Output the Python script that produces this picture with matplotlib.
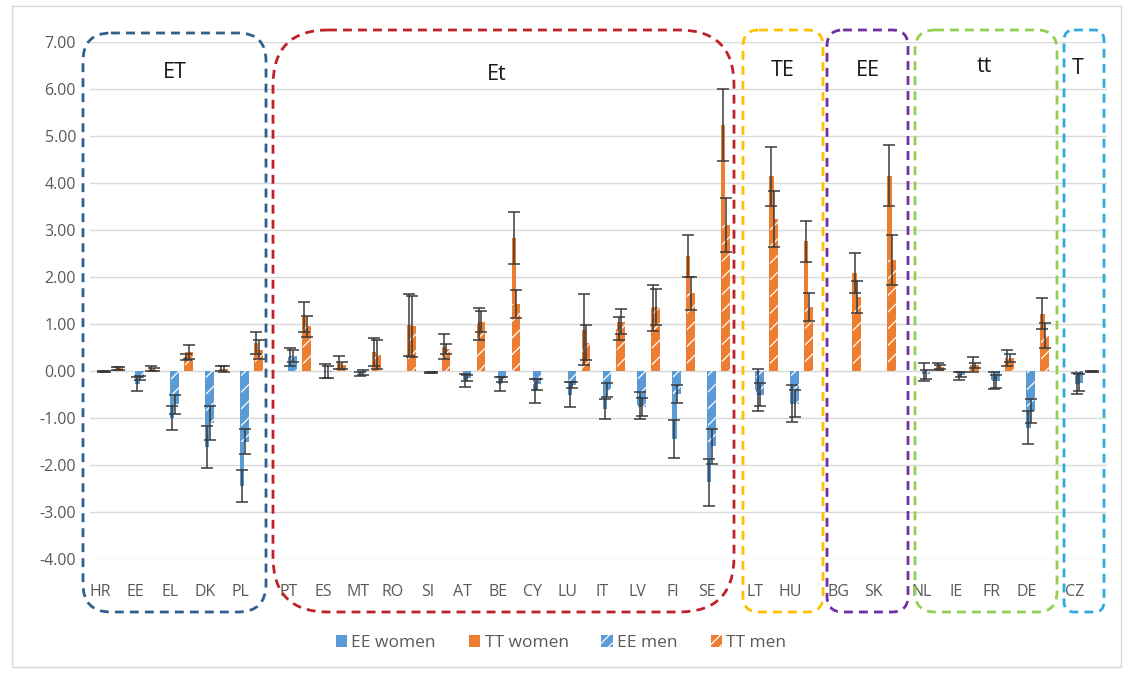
import numpy as np
import matplotlib
matplotlib.use("Agg")
import matplotlib.pyplot as plt
from matplotlib.patches import FancyBboxPatch, Patch, Rectangle

plt.rcParams['font.family'] = ['Open Sans', 'DejaVu Sans']
plt.rcParams['hatch.linewidth'] = 0.9

nan = np.nan
categories = ["HR", "EE", "EL", "DK", "PL",
              "PT", "ES", "MT", "RO", "SI", "AT", "BE", "CY", "LU", "IT", "LV", "FI", "SE",
              "LT", "HU",
              "BG", "SK",
              "NL", "IE", "FR", "DE",
              "CZ"]
group_sizes = [5, 13, 2, 2, 4, 1]
group_names = ["ET", "Et", "TE", "EE", "tt", "T"]

ee_women = [-0.01, -0.28, -1.00, -1.61, -2.45, 0.30, 0.00, -0.06, nan, -0.03, -0.20, -0.28, -0.42,
            -0.50, -0.80, -0.73, -1.45, -2.36, -0.40, -0.69, nan, nan, -0.02, -0.10, -0.20, -1.20, -0.27]
ee_women_err = [0.02, 0.15, 0.26, 0.45, 0.34, 0.20, 0.14, 0.04, nan, 0.01, 0.13, 0.15, 0.25,
                0.26, 0.21, 0.28, 0.40, 0.50, 0.45, 0.39, nan, nan, 0.19, 0.09, 0.19, 0.36, 0.22]
tt_women = [0.05, 0.05, 0.30, 0.05, 0.60, 1.15, 0.18, 0.40, 0.97, 0.52, 1.00, 2.83, nan,
            0.88, 0.90, 1.35, 2.45, 5.23, 4.14, 2.76, 2.08, 4.15, 0.10, 0.13, 0.28, 1.22, -0.01]
tt_women_err = [0.03, 0.05, 0.07, 0.05, 0.23, 0.32, 0.13, 0.30, 0.66, 0.27, 0.33, 0.55, nan,
                0.76, 0.25, 0.49, 0.45, 0.76, 0.63, 0.44, 0.43, 0.65, 0.08, 0.16, 0.17, 0.33, 0.01]
ee_men = [0.00, -0.15, -0.71, -1.10, -1.50, 0.32, -0.02, -0.03, nan, -0.03, -0.15, -0.18, -0.28,
          -0.30, -0.40, -0.77, -0.48, -1.60, -0.50, -0.69, nan, nan, -0.07, -0.08, -0.22, -0.85, -0.25]
ee_men_err = [0.01, 0.05, 0.20, 0.36, 0.27, 0.13, 0.12, 0.06, nan, 0.01, 0.06, 0.05, 0.12,
              0.06, 0.15, 0.19, 0.19, 0.37, 0.25, 0.29, nan, nan, 0.10, 0.05, 0.14, 0.25, 0.18]
tt_men = [0.06, 0.03, 0.40, 0.04, 0.45, 0.95, 0.12, 0.35, 0.95, 0.47, 1.05, 1.43, nan,
          0.60, 1.05, 1.36, 1.65, 3.10, 3.23, 1.36, 1.58, 2.37, 0.08, 0.12, 0.28, 0.75, -0.01]
tt_men_err = [0.03, 0.03, 0.15, 0.06, 0.20, 0.22, 0.08, 0.30, 0.65, 0.10, 0.22, 0.30, nan,
              0.37, 0.27, 0.38, 0.35, 0.57, 0.60, 0.30, 0.34, 0.53, 0.04, 0.06, 0.09, 0.27, 0.01]
yticks = [-4, -3, -2, -1, 0, 1, 2, 3, 4, 5, 6, 7]

BLUE = "#5B9BD5"
ORANGE = "#ED7D31"
TXT = "#595959"
ERRC = "#3A3A3A"

# positions: categories with an extra gap between groups
gidx = np.repeat(np.arange(len(group_sizes)), group_sizes)
x = np.arange(len(categories)) + 0.38 * gidx

W = 1130
H = 673
fig = plt.figure(figsize=(W / 100, H / 100), dpi=100)
ax = fig.add_axes([90 / W, 1 - 559.3 / H, (1107 - 90) / W, (559.3 - 41.7) / H])

off = 0.2
mw = 0.23
ww = 0.12
wshift = -0.07

# women (solid, narrow)
ax.bar(x - off + wshift, ee_women, width=ww, color=BLUE, zorder=2)
ax.bar(x + off + wshift, tt_women, width=ww, color=ORANGE, zorder=2)
# men (hatched, wider)
ax.bar(x - off, ee_men, width=mw, color=BLUE, edgecolor="white", linewidth=0, hatch="//", zorder=3)
ax.bar(x + off, tt_men, width=mw, color=ORANGE, edgecolor="white", linewidth=0, hatch="//", zorder=3)

ekw = dict(fmt="none", ecolor=ERRC, elinewidth=1.1, capsize=4.5, capthick=1.1, zorder=4)
ax.errorbar(x - off + wshift, ee_women, yerr=ee_women_err, **ekw)
ax.errorbar(x + off + wshift, tt_women, yerr=tt_women_err, **ekw)
ax.errorbar(x - off, ee_men, yerr=ee_men_err, **ekw)
ax.errorbar(x + off, tt_men, yerr=tt_men_err, **ekw)

ax.set_ylim(-4, 7)
ax.set_xlim(x[0] - 0.63, x[-1] + 0.6)
ax.set_yticks(yticks)
ax.set_yticklabels([f"{v:.2f}" for v in yticks], color=TXT, fontsize=11.5)
ax.set_xticks(x - 0.33)
ax.set_xticklabels(categories, color=TXT, fontsize=11.5)
ax.tick_params(axis="x", length=0, pad=18)
ax.tick_params(axis="y", length=0, pad=10)
ax.grid(axis="y", color="#D9D9D9", linewidth=1.0, zorder=0)
ax.set_axisbelow(True)
for s in ax.spines.values():
    s.set_visible(False)

# legend
handles = [Patch(facecolor=BLUE, label="EE women"),
           Patch(facecolor=ORANGE, label="TT women"),
           Patch(facecolor=BLUE, edgecolor="white", hatch="///", linewidth=0, label="EE men"),
           Patch(facecolor=ORANGE, edgecolor="white", hatch="///", linewidth=0, label="TT men")]
leg = fig.legend(handles=handles, loc="center", bbox_to_anchor=(561 / W, 1 - 643 / H), ncol=4,
                 frameon=False, fontsize=12.5, handlelength=0.65, handleheight=0.65,
                 handletextpad=0.25, columnspacing=1.9)
for t in leg.get_texts():
    t.set_color(TXT)

# overlay for group boxes (pixel coordinates)
ov = fig.add_axes([0, 0, 1, 1], facecolor="none")
ov.set_xlim(0, W)
ov.set_ylim(H, 0)
ov.axis("off")
ov.add_patch(Rectangle((11.5, 6), 1109, 661, fill=False, edgecolor="#D9D9D9", linewidth=1))

boxes = [  # x0, y0, x1, y1, color, rounding, label x, label y
    (83, 33, 266, 612, "#2F5F8F", 28, 175, 72),
    (273, 30, 734, 612, "#C0202A", 55, 497, 75),
    (743, 30, 823, 612, "#FFC000", 16, 783, 70),
    (827, 30, 908, 612, "#7030A0", 16, 868, 70),
    (915, 30, 1057, 612, "#92D050", 20, 984, 67),
    (1064, 30, 1104, 612, "#2EAADC", 10, 1078, 68),
]
for (x0, y0, x1, y1, c, r, lx, ly), name in zip(boxes, group_names):
    p = FancyBboxPatch((x0, y0), x1 - x0, y1 - y0,
                       boxstyle=f"round,pad=0,rounding_size={r}",
                       fill=False, edgecolor=c, linewidth=2.0,
                       linestyle=(0, (3.2, 2.2)), zorder=5)
    ov.add_patch(p)
    ov.text(lx, ly, name, ha="center", va="center", fontsize=15.5, color="#1A1A1A")

fig.savefig("out.png", dpi=100)
